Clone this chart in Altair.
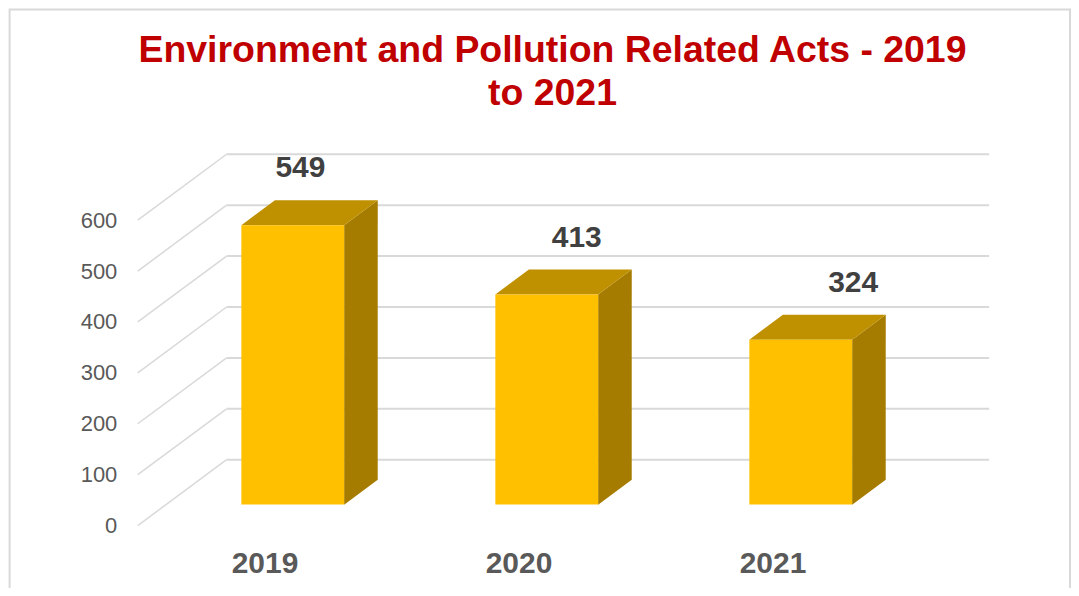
import altair as alt
import pandas as pd

# ---- data ----
categories = ["2019", "2020", "2021"]
values = [549, 413, 324]
y_ticks = [0, 100, 200, 300, 400, 500, 600]
title_lines = ["Environment and Pollution Related Acts - 2019", "to 2021"]

# ---- style / geometry constants ----
FONT = "Liberation Sans"
W, H = 853, 372
X_DOMAIN = [-0.499, 2.853]   # category index units (front plane)
Y_DOMAIN = [0, 729.4]        # value units (front plane)
DX, DY = 0.3497, 129.4       # full depth offset of the 3-D box (x units, value units)
F0, F1 = 0.318, 0.696        # bar front / back depth fractions
HW = 0.2024                  # half bar width (x units)
LABEL_UP = 45.1              # label baseline above top-back edge (value units)
LABEL_SKEW = 0.088

FRONT_C, TOP_C, SIDE_C = "#FFC000", "#BF9000", "#A67C00"
GRID_C = "#D9D9D9"

front_rows, side_rows, top_rows, label_rows = [], [], [], []
for i, (c, v) in enumerate(zip(categories, values)):
    x0, x1 = i + F0 * DX, i + F1 * DX
    b0, b1 = F0 * DY, F1 * DY
    front_rows.append(dict(cat=c, x=x0 - HW, x2=x0 + HW, y=b0, y2=b0 + v))
    side_rows += [dict(cat=c, x=x0 + HW, y=b0, y2=b0 + v),
                  dict(cat=c, x=x1 + HW, y=b1, y2=b1 + v)]
    top_rows += [dict(cat=c, y=b0 + v, x=x0 - HW, x2=x0 + HW),
                 dict(cat=c, y=b1 + v, x=x1 - HW, x2=x1 + HW)]
    label_rows.append(dict(cat=c, v=v, x=i + 0.1415 + LABEL_SKEW * i, y=b1 + v + LABEL_UP))

back_rows = [dict(x=X_DOMAIN[0] + DX, x2=X_DOMAIN[1], y=t + DY, y2=t + DY) for t in y_ticks]
diag_rows = [dict(x=X_DOMAIN[0], x2=X_DOMAIN[0] + DX, y=t, y2=t + DY) for t in y_ticks]

xs = alt.Scale(domain=X_DOMAIN, nice=False, zero=False)
ys = alt.Scale(domain=Y_DOMAIN, nice=False, zero=False)

label_expr = "[" + ",".join("'%s'" % c for c in categories) + "][datum.value]"

x_axis = alt.Axis(values=list(range(len(categories))), labelExpr=label_expr,
                  labelFont=FONT, labelFontSize=30, labelFontWeight="bold",
                  labelColor="#595959", ticks=False, domain=False, grid=False,
                  labelPadding=23, title=None)
y_axis = alt.Axis(values=y_ticks, labelFont=FONT, labelFontSize=22,
                  labelColor="#595959", ticks=False, domain=False, grid=False,
                  labelPadding=21, title=None)

one = pd.DataFrame({"a": [0]})

border = alt.Chart(one).mark_rect(fillOpacity=0, stroke=GRID_C, strokeWidth=2).encode(
    x=alt.value(-128.4), x2=alt.value(934), y=alt.value(-145), y2=alt.value(520)
)

grid_back = alt.Chart(pd.DataFrame(back_rows)).mark_rule(color=GRID_C, strokeWidth=2).encode(
    x=alt.X("x:Q", scale=xs, axis=x_axis), x2="x2:Q",
    y=alt.Y("y:Q", scale=ys, axis=y_axis), y2="y2:Q",
)
grid_diag = alt.Chart(pd.DataFrame(diag_rows)).mark_rule(color=GRID_C, strokeWidth=1.5).encode(
    x=alt.X("x:Q", scale=xs, axis=x_axis), x2="x2:Q",
    y=alt.Y("y:Q", scale=ys, axis=y_axis), y2="y2:Q",
)

side = alt.Chart(pd.DataFrame(side_rows)).mark_area(orient="vertical", color=SIDE_C).encode(
    x=alt.X("x:Q", scale=xs, axis=x_axis),
    y=alt.Y("y:Q", scale=ys, axis=y_axis, stack=None), y2="y2:Q",
    detail="cat:N",
)
top = alt.Chart(pd.DataFrame(top_rows)).mark_area(orient="horizontal", color=TOP_C).encode(
    y=alt.Y("y:Q", scale=ys, axis=y_axis),
    x=alt.X("x:Q", scale=xs, axis=x_axis, stack=None), x2="x2:Q",
    detail="cat:N",
)
front = alt.Chart(pd.DataFrame(front_rows)).mark_rect(color=FRONT_C).encode(
    x=alt.X("x:Q", scale=xs, axis=x_axis), x2="x2:Q",
    y=alt.Y("y:Q", scale=ys, axis=y_axis), y2="y2:Q",
)
labels = alt.Chart(pd.DataFrame(label_rows)).mark_text(
    font=FONT, fontSize=30, fontWeight="bold", color="#404040",
    align="center", baseline="alphabetic"
).encode(
    x=alt.X("x:Q", scale=xs, axis=x_axis),
    y=alt.Y("y:Q", scale=ys, axis=y_axis),
    text="v:Q",
)
title = alt.Chart(one).mark_text(
    text=title_lines, font=FONT, fontSize=37.5, fontWeight="bold", color="#C00000",
    align="center", baseline="alphabetic", lineHeight=42.5
).encode(x=alt.value(415.5), y=alt.value(-92))

chart = alt.layer(border, grid_back, grid_diag, side, top, front, labels, title).properties(
    width=W, height=H,
    autosize=alt.AutoSizeParams(type="none"),
    padding={"left": 130, "top": 146, "right": 82, "bottom": 62},
    background="white",
).configure_view(strokeWidth=0)

chart.save("out.html", embed_options={"renderer": "svg", "actions": False})
